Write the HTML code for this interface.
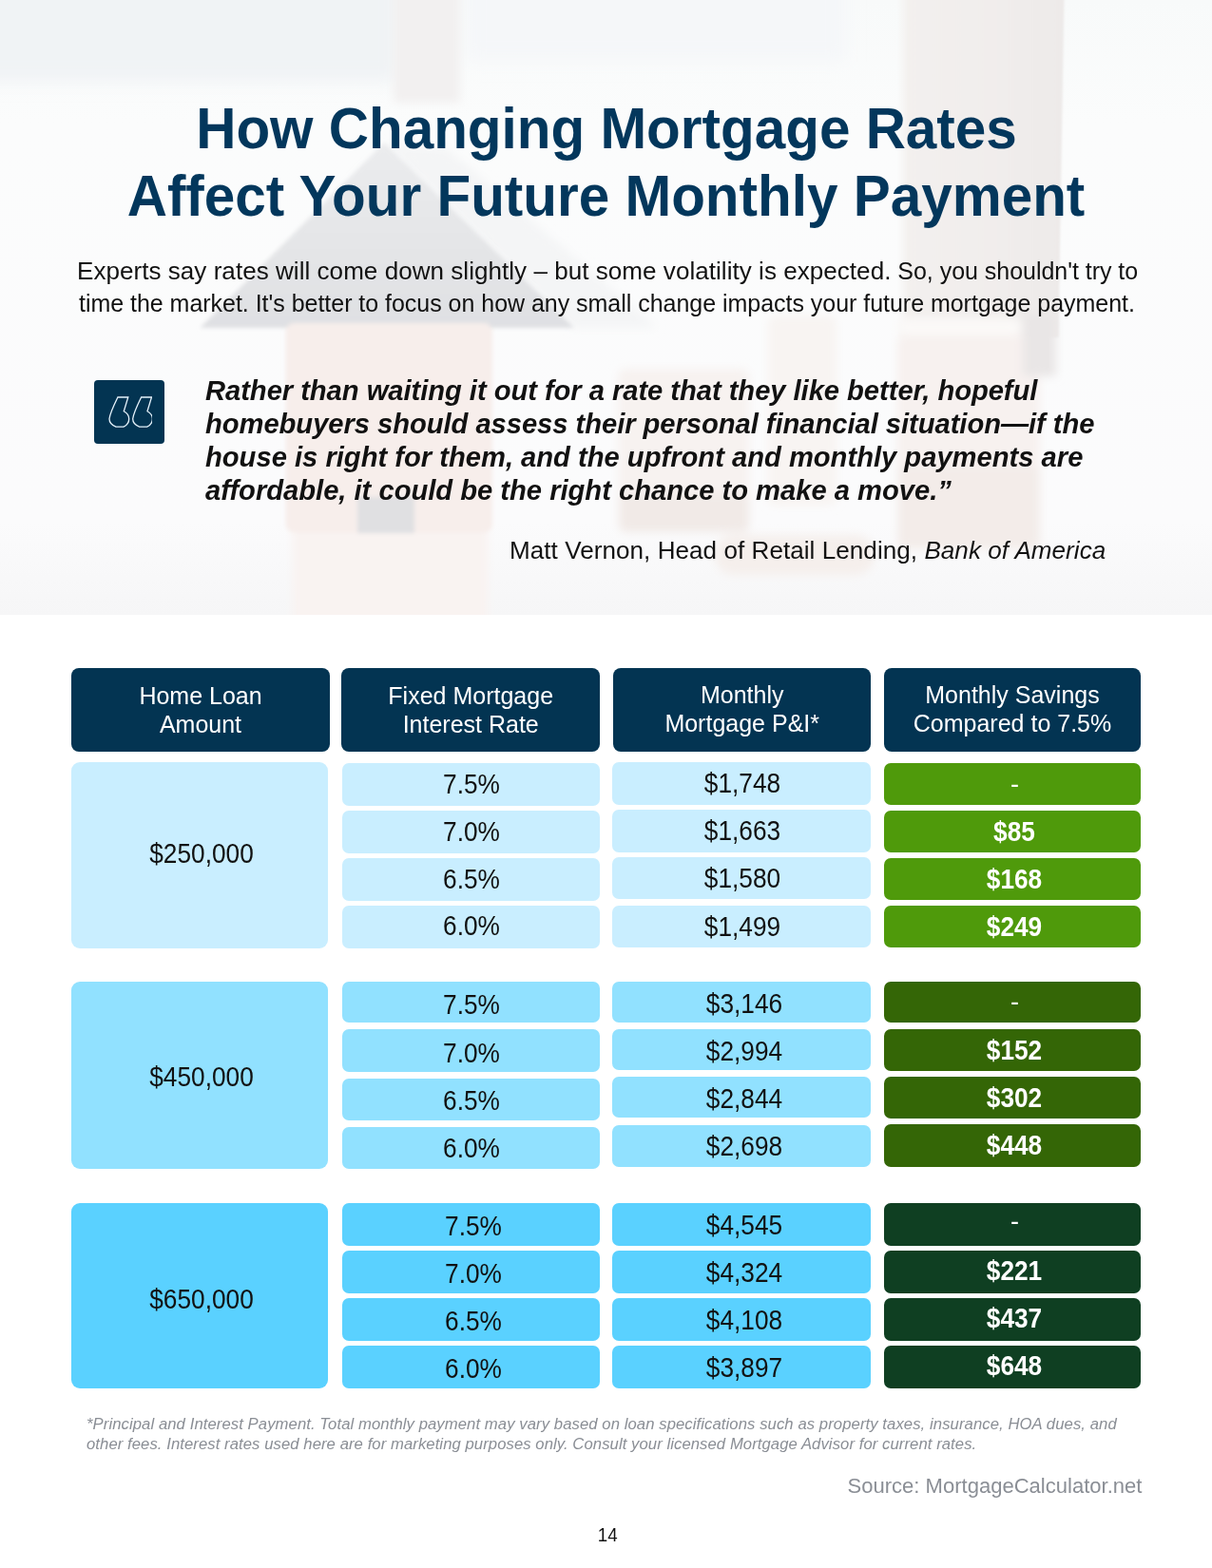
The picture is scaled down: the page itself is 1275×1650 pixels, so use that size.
<!DOCTYPE html>
<html lang="en">
<head>
<meta charset="utf-8">
<title>How Changing Mortgage Rates Affect Your Future Monthly Payment</title>
<style>
html,body{margin:0;padding:0;background:#fff;}
html,body{width:1275px;height:1650px;overflow:hidden;}
body{font-family:"Liberation Sans",sans-serif;}
#page{position:relative;width:1275px;height:1650px;overflow:hidden;background:#fff;}
.t{position:absolute;white-space:nowrap;margin:0;padding:0;}
.b{position:absolute;}
#bg{position:absolute;left:0;top:0;width:1275px;height:647px;overflow:hidden;}
</style>
</head>
<body>
<div id="page">
<div id="bg">
<svg width="1275" height="647" viewBox="0 0 1275 647">
<defs>
<filter id="b3" x="-20%" y="-20%" width="140%" height="140%"><feGaussianBlur stdDeviation="2.2"/></filter>
<filter id="b6" x="-20%" y="-20%" width="140%" height="140%"><feGaussianBlur stdDeviation="5"/></filter>
<filter id="b9" x="-30%" y="-30%" width="160%" height="160%"><feGaussianBlur stdDeviation="9"/></filter>
<filter id="b14" x="-30%" y="-30%" width="160%" height="160%"><feGaussianBlur stdDeviation="14"/></filter>
<linearGradient id="gv" x1="0" y1="0" x2="0" y2="1"><stop offset="0" stop-color="#f8fafa"/><stop offset="0.2" stop-color="#fbfcfc"/><stop offset="0.85" stop-color="#fbfbfc"/><stop offset="1" stop-color="#f6f6f7"/></linearGradient>
<linearGradient id="gp" x1="0" y1="0" x2="1" y2="0"><stop offset="0" stop-color="#f3f0ee"/><stop offset="0.55" stop-color="#f1edec"/><stop offset="1" stop-color="#edeae9"/></linearGradient>
<linearGradient id="gpl" x1="0" y1="0" x2="1" y2="0"><stop offset="0" stop-color="#f3f0ee" stop-opacity="0"/><stop offset="1" stop-color="#f3f0ee"/></linearGradient>
<filter id="b1" x="-20%" y="-20%" width="140%" height="140%"><feGaussianBlur stdDeviation="1"/></filter>
<linearGradient id="gr" x1="0" y1="0" x2="0" y2="1"><stop offset="0" stop-color="#ebecee"/><stop offset="0.6" stop-color="#e4e5e7"/><stop offset="1" stop-color="#dfe0e3"/></linearGradient>
</defs>
<rect width="1275" height="647" fill="url(#gv)"/>
<g filter="url(#b9)">
<rect x="-60" y="-60" width="480" height="146" fill="#f0f3f5"/>
<rect x="490" y="-60" width="400" height="125" fill="#f5f7f9"/>
</g>
<g filter="url(#b6)">
<rect x="308" y="552" width="205" height="114" fill="#f9f3f1"/>
</g>
<g filter="url(#b6)">
<rect x="414" y="-30" width="70" height="138" fill="#f2f0f0"/>
<polygon points="404,152 470,156 692,345 602,345" fill="#f4f5f6"/>
<rect x="650" y="388" width="138" height="172" rx="8" fill="#f7f2f0"/>
<rect x="652" y="520" width="136" height="40" rx="6" fill="#f1eae7"/>
<rect x="808" y="332" width="72" height="200" rx="8" fill="#f8f4f2"/>
<rect x="752" y="563" width="168" height="42" rx="20" fill="#f5efec"/>
</g>
<g filter="url(#b1)">
<rect x="944" y="-30" width="12" height="385" fill="url(#gpl)"/>
<polygon points="955.5,-30 1120,-30 1113.5,355 955.5,355" fill="url(#gp)"/>
</g>
<g filter="url(#b6)">
<rect x="944" y="352" width="150" height="226" rx="8" fill="#f7f1ef"/>
<rect x="943" y="335" width="132" height="18" rx="8" fill="#fbf9f8"/>
<rect x="945" y="490" width="149" height="86" rx="8" fill="#f3ece9"/>
<rect x="1076" y="330" width="35" height="66" fill="#e9e6e6"/>
</g>
<g filter="url(#b3)">
<polygon points="404,150 604,345 210.5,345" fill="url(#gr)"/>
<rect x="300.5" y="340" width="217.5" height="220.5" rx="9" fill="#f7eeeb"/>
<rect x="376" y="523" width="60" height="38" fill="#e0e0e2"/>
</g>
</svg>
</div>
<div class="t" style="top:78.30px;font-size:58.45px;line-height:116.9px;color:#03375c;font-weight:bold;left:-62px;width:1400px;text-align:center;transform:scaleY(1.03);transform-origin:50% 78.70px;">How Changing Mortgage Rates</div>
<div class="t" style="top:149.30px;font-size:58.45px;line-height:116.9px;color:#03375c;font-weight:bold;left:-62.5px;width:1400px;text-align:center;transform:scaleY(1.03);transform-origin:50% 78.70px;">Affect Your Future Monthly Payment</div>
<div class="t" style="top:259.44px;font-size:26.04px;line-height:52.08px;color:#111;letter-spacing:0.037px;left:81px;transform:scaleY(1.02);transform-origin:50% 35.06px;">Experts say rates will come down slightly – but some volatility is expected.<span style="font-size:25px;letter-spacing:-0.03px"> So, you shouldn't try to</span></div>
<div class="t" style="top:294.24px;font-size:25px;line-height:50px;color:#111;letter-spacing:-0.028px;left:83px;transform:scaleY(1.02);transform-origin:50% 33.66px;">time the market. It's better to focus on how any small change impacts your future mortgage payment.</div>
<div class="t" style="top:381.52px;font-size:29.17px;line-height:58.34px;color:#111;font-weight:bold;font-style:italic;letter-spacing:-0.039px;left:216px;transform:scaleY(1.02);transform-origin:50% 39.28px;">Rather than waiting it out for a rate that they like better, hopeful</div>
<div class="t" style="top:417.32px;font-size:29.17px;line-height:58.34px;color:#111;font-weight:bold;font-style:italic;letter-spacing:-0.04px;left:216px;transform:scaleY(1.02);transform-origin:50% 39.28px;">homebuyers should assess their personal financial situation—if the</div>
<div class="t" style="top:452.22px;font-size:29.17px;line-height:58.34px;color:#111;font-weight:bold;font-style:italic;left:216px;transform:scaleY(1.02);transform-origin:50% 39.28px;">house is right for them, and the upfront and monthly payments are</div>
<div class="t" style="top:486.72px;font-size:29.17px;line-height:58.34px;color:#111;font-weight:bold;font-style:italic;letter-spacing:-0.007px;left:216px;transform:scaleY(1.02);transform-origin:50% 39.28px;">affordable, it could be the right chance to make a move.”</div>
<div class="t" style="top:553.34px;font-size:26.04px;line-height:52.08px;color:#111;letter-spacing:0.06px;left:-236.70000000000005px;width:1400px;text-align:right;transform:scaleY(1.02);transform-origin:50% 35.06px;">Matt Vernon, Head of Retail Lending, <i>Bank of America</i></div>
<div class="b" style="left:98.7px;top:400px;width:74.3px;height:66.80000000000001px;background:#033452;border-radius:4px;"></div>
<svg class="b" style="left:98.7px;top:400px" width="61.2" height="67" viewBox="0 0 61.2 67">
<g fill="none" stroke="#e6f2fb" stroke-width="1.3" stroke-linejoin="miter">
<path d="M24.9 18 L35.8 18 L31.3 32.8 C34.2 34.4 36.7 37 36.7 40.8 C36.7 44.6 34.4 47.6 31 49.2 L23 49.2 C19 47.6 16 44.6 16 40.8 C16.4 37 20 28 24.9 18 Z"/>
<path transform="translate(24.7 0)" d="M24.9 18 L35.8 18 L31.3 32.8 C34.2 34.4 36.7 37 36.7 40.8 C36.7 44.6 34.4 47.6 31 49.2 L23 49.2 C19 47.6 16 44.6 16 40.8 C16.4 37 20 28 24.9 18 Z"/>
</g></svg>
<div class="b" style="left:75px;top:703px;width:272px;height:87.5px;background:#033452;border-radius:8px;"></div>
<div class="t" style="top:707.34px;font-size:25px;line-height:50px;color:#fff;left:-489.0px;width:1400px;text-align:center;transform:scaleY(1.02);transform-origin:50% 33.66px;">Home Loan</div>
<div class="t" style="top:737.34px;font-size:25px;line-height:50px;color:#fff;left:-489.0px;width:1400px;text-align:center;transform:scaleY(1.02);transform-origin:50% 33.66px;">Amount</div>
<div class="b" style="left:359.4px;top:703px;width:271.6px;height:87.5px;background:#033452;border-radius:8px;"></div>
<div class="t" style="top:707.34px;font-size:25px;line-height:50px;color:#fff;left:-204.8px;width:1400px;text-align:center;transform:scaleY(1.02);transform-origin:50% 33.66px;">Fixed Mortgage</div>
<div class="t" style="top:737.34px;font-size:25px;line-height:50px;color:#fff;left:-204.8px;width:1400px;text-align:center;transform:scaleY(1.02);transform-origin:50% 33.66px;">Interest Rate</div>
<div class="b" style="left:645.4px;top:703px;width:270.6px;height:87.5px;background:#033452;border-radius:8px;"></div>
<div class="t" style="top:706.24px;font-size:25px;line-height:50px;color:#fff;left:80.70000000000005px;width:1400px;text-align:center;transform:scaleY(1.02);transform-origin:50% 33.66px;">Monthly</div>
<div class="t" style="top:736.24px;font-size:25px;line-height:50px;color:#fff;left:80.70000000000005px;width:1400px;text-align:center;transform:scaleY(1.02);transform-origin:50% 33.66px;">Mortgage P&amp;I*</div>
<div class="b" style="left:930px;top:703px;width:270px;height:87.5px;background:#033452;border-radius:8px;"></div>
<div class="t" style="top:706.24px;font-size:25px;line-height:50px;color:#fff;left:365.0px;width:1400px;text-align:center;transform:scaleY(1.02);transform-origin:50% 33.66px;">Monthly Savings</div>
<div class="t" style="top:736.24px;font-size:25px;line-height:50px;color:#fff;left:365.0px;width:1400px;text-align:center;transform:scaleY(1.02);transform-origin:50% 33.66px;">Compared to 7.5%</div>
<div class="b" style="left:75px;top:802px;width:270px;height:196.29999999999995px;background:#c9eeff;border-radius:9px;filter:blur(0.5px);"></div>
<div class="t" style="top:871.84px;font-size:27px;line-height:54px;color:#111;left:-488.0px;width:1400px;text-align:center;transform:scale(0.972,1.065);transform-origin:50% 36.36px;">$250,000</div>
<div class="b" style="left:359.8px;top:803.3px;width:271.2px;height:44.700000000000045px;background:#c9eeff;border-radius:7px;filter:blur(0.5px);"></div>
<div class="t" style="top:798.64px;font-size:27px;line-height:54px;color:#111;left:-204.0px;width:1400px;text-align:center;transform:scale(0.972,1.065);transform-origin:50% 36.36px;">7.5%</div>
<div class="b" style="left:644px;top:801.5px;width:271.5px;height:45.0px;background:#c9eeff;border-radius:7px;filter:blur(0.5px);"></div>
<div class="t" style="top:798.24px;font-size:27px;line-height:54px;color:#111;left:81.0px;width:1400px;text-align:center;transform:scale(0.972,1.065);transform-origin:50% 36.36px;">$1,748</div>
<div class="b" style="left:930px;top:803px;width:270px;height:44px;background:#4f9a0b;border-radius:7px;"></div>
<div class="t" style="top:797.64px;font-size:27px;line-height:54px;color:#fff;left:367.5px;width:1400px;text-align:center;">-</div>
<div class="b" style="left:359.8px;top:853.3px;width:271.2px;height:44.700000000000045px;background:#c9eeff;border-radius:7px;filter:blur(0.5px);"></div>
<div class="t" style="top:848.64px;font-size:27px;line-height:54px;color:#111;left:-204.0px;width:1400px;text-align:center;transform:scale(0.972,1.065);transform-origin:50% 36.36px;">7.0%</div>
<div class="b" style="left:644px;top:851.6px;width:271.5px;height:45.0px;background:#c9eeff;border-radius:7px;filter:blur(0.5px);"></div>
<div class="t" style="top:848.24px;font-size:27px;line-height:54px;color:#111;left:81.0px;width:1400px;text-align:center;transform:scale(0.972,1.065);transform-origin:50% 36.36px;">$1,663</div>
<div class="b" style="left:930px;top:853px;width:270px;height:44px;background:#4f9a0b;border-radius:7px;"></div>
<div class="t" style="top:848.84px;font-size:27px;line-height:54px;color:#fff;font-weight:bold;left:367.20000000000005px;width:1400px;text-align:center;transform:scale(0.972,1.065);transform-origin:50% 36.36px;">$85</div>
<div class="b" style="left:359.8px;top:903.3px;width:271.2px;height:44.700000000000045px;background:#c9eeff;border-radius:7px;filter:blur(0.5px);"></div>
<div class="t" style="top:898.64px;font-size:27px;line-height:54px;color:#111;left:-204.0px;width:1400px;text-align:center;transform:scale(0.972,1.065);transform-origin:50% 36.36px;">6.5%</div>
<div class="b" style="left:644px;top:901.7px;width:271.5px;height:44.799999999999955px;background:#c9eeff;border-radius:7px;filter:blur(0.5px);"></div>
<div class="t" style="top:898.24px;font-size:27px;line-height:54px;color:#111;left:81.0px;width:1400px;text-align:center;transform:scale(0.972,1.065);transform-origin:50% 36.36px;">$1,580</div>
<div class="b" style="left:930px;top:903px;width:270px;height:44px;background:#4f9a0b;border-radius:7px;"></div>
<div class="t" style="top:898.84px;font-size:27px;line-height:54px;color:#fff;font-weight:bold;left:367.20000000000005px;width:1400px;text-align:center;transform:scale(0.972,1.065);transform-origin:50% 36.36px;">$168</div>
<div class="b" style="left:359.8px;top:953.3px;width:271.2px;height:44.700000000000045px;background:#c9eeff;border-radius:7px;filter:blur(0.5px);"></div>
<div class="t" style="top:948.34px;font-size:27px;line-height:54px;color:#111;left:-204.0px;width:1400px;text-align:center;transform:scale(0.972,1.065);transform-origin:50% 36.36px;">6.0%</div>
<div class="b" style="left:644px;top:953px;width:271.5px;height:43.700000000000045px;background:#c9eeff;border-radius:7px;filter:blur(0.5px);"></div>
<div class="t" style="top:948.64px;font-size:27px;line-height:54px;color:#111;left:81.0px;width:1400px;text-align:center;transform:scale(0.972,1.065);transform-origin:50% 36.36px;">$1,499</div>
<div class="b" style="left:930px;top:953px;width:270px;height:44px;background:#4f9a0b;border-radius:7px;"></div>
<div class="t" style="top:948.84px;font-size:27px;line-height:54px;color:#fff;font-weight:bold;left:367.20000000000005px;width:1400px;text-align:center;transform:scale(0.972,1.065);transform-origin:50% 36.36px;">$249</div>
<div class="b" style="left:75px;top:1033px;width:270px;height:197px;background:#91e1ff;border-radius:9px;filter:blur(0.5px);"></div>
<div class="t" style="top:1107.14px;font-size:27px;line-height:54px;color:#111;left:-488.0px;width:1400px;text-align:center;transform:scale(0.972,1.065);transform-origin:50% 36.36px;">$450,000</div>
<div class="b" style="left:359.8px;top:1033px;width:271.2px;height:43.299999999999955px;background:#91e1ff;border-radius:7px;filter:blur(0.5px);"></div>
<div class="t" style="top:1031.44px;font-size:27px;line-height:54px;color:#111;left:-204.0px;width:1400px;text-align:center;transform:scale(0.972,1.065);transform-origin:50% 36.36px;">7.5%</div>
<div class="b" style="left:644px;top:1033px;width:271.5px;height:42.799999999999955px;background:#91e1ff;border-radius:7px;filter:blur(0.5px);"></div>
<div class="t" style="top:1030.44px;font-size:27px;line-height:54px;color:#111;left:82.70000000000005px;width:1400px;text-align:center;transform:scale(0.972,1.065);transform-origin:50% 36.36px;">$3,146</div>
<div class="b" style="left:930px;top:1033px;width:270px;height:43.299999999999955px;background:#346606;border-radius:7px;"></div>
<div class="t" style="top:1026.64px;font-size:27px;line-height:54px;color:#fff;left:367.5px;width:1400px;text-align:center;">-</div>
<div class="b" style="left:359.8px;top:1083px;width:271.2px;height:44.799999999999955px;background:#91e1ff;border-radius:7px;filter:blur(0.5px);"></div>
<div class="t" style="top:1081.84px;font-size:27px;line-height:54px;color:#111;left:-204.0px;width:1400px;text-align:center;transform:scale(0.972,1.065);transform-origin:50% 36.36px;">7.0%</div>
<div class="b" style="left:644px;top:1083px;width:271.5px;height:43.200000000000045px;background:#91e1ff;border-radius:7px;filter:blur(0.5px);"></div>
<div class="t" style="top:1080.44px;font-size:27px;line-height:54px;color:#111;left:82.70000000000005px;width:1400px;text-align:center;transform:scale(0.972,1.065);transform-origin:50% 36.36px;">$2,994</div>
<div class="b" style="left:930px;top:1083px;width:270px;height:43.59999999999991px;background:#346606;border-radius:7px;"></div>
<div class="t" style="top:1078.84px;font-size:27px;line-height:54px;color:#fff;font-weight:bold;left:367.39999999999986px;width:1400px;text-align:center;transform:scale(0.972,1.065);transform-origin:50% 36.36px;">$152</div>
<div class="b" style="left:359.8px;top:1134.5px;width:271.2px;height:44.90000000000009px;background:#91e1ff;border-radius:7px;filter:blur(0.5px);"></div>
<div class="t" style="top:1131.64px;font-size:27px;line-height:54px;color:#111;left:-204.0px;width:1400px;text-align:center;transform:scale(0.972,1.065);transform-origin:50% 36.36px;">6.5%</div>
<div class="b" style="left:644px;top:1133px;width:271.5px;height:43.200000000000045px;background:#91e1ff;border-radius:7px;filter:blur(0.5px);"></div>
<div class="t" style="top:1130.44px;font-size:27px;line-height:54px;color:#111;left:82.70000000000005px;width:1400px;text-align:center;transform:scale(0.972,1.065);transform-origin:50% 36.36px;">$2,844</div>
<div class="b" style="left:930px;top:1133px;width:270px;height:43.5px;background:#346606;border-radius:7px;"></div>
<div class="t" style="top:1128.84px;font-size:27px;line-height:54px;color:#fff;font-weight:bold;left:367.39999999999986px;width:1400px;text-align:center;transform:scale(0.972,1.065);transform-origin:50% 36.36px;">$302</div>
<div class="b" style="left:359.8px;top:1186px;width:271.2px;height:44px;background:#91e1ff;border-radius:7px;filter:blur(0.5px);"></div>
<div class="t" style="top:1181.84px;font-size:27px;line-height:54px;color:#111;left:-204.0px;width:1400px;text-align:center;transform:scale(0.972,1.065);transform-origin:50% 36.36px;">6.0%</div>
<div class="b" style="left:644px;top:1184.1px;width:271.5px;height:44.0px;background:#91e1ff;border-radius:7px;filter:blur(0.5px);"></div>
<div class="t" style="top:1180.44px;font-size:27px;line-height:54px;color:#111;left:82.70000000000005px;width:1400px;text-align:center;transform:scale(0.972,1.065);transform-origin:50% 36.36px;">$2,698</div>
<div class="b" style="left:930px;top:1183px;width:270px;height:45px;background:#346606;border-radius:7px;"></div>
<div class="t" style="top:1179.44px;font-size:27px;line-height:54px;color:#fff;font-weight:bold;left:367.39999999999986px;width:1400px;text-align:center;transform:scale(0.972,1.065);transform-origin:50% 36.36px;">$448</div>
<div class="b" style="left:75px;top:1266px;width:270px;height:195px;background:#5ad1ff;border-radius:9px;filter:blur(0.5px);"></div>
<div class="t" style="top:1340.54px;font-size:27px;line-height:54px;color:#111;left:-488.0px;width:1400px;text-align:center;transform:scale(0.972,1.065);transform-origin:50% 36.36px;">$650,000</div>
<div class="b" style="left:359.8px;top:1266px;width:271.2px;height:44.700000000000045px;background:#5ad1ff;border-radius:7px;filter:blur(0.5px);"></div>
<div class="t" style="top:1264.14px;font-size:27px;line-height:54px;color:#111;left:-202.2px;width:1400px;text-align:center;transform:scale(0.972,1.065);transform-origin:50% 36.36px;">7.5%</div>
<div class="b" style="left:644px;top:1266px;width:271.5px;height:44.700000000000045px;background:#5ad1ff;border-radius:7px;filter:blur(0.5px);"></div>
<div class="t" style="top:1263.14px;font-size:27px;line-height:54px;color:#111;left:82.70000000000005px;width:1400px;text-align:center;transform:scale(0.972,1.065);transform-origin:50% 36.36px;">$4,545</div>
<div class="b" style="left:930px;top:1266px;width:270px;height:44.700000000000045px;background:#0f3f22;border-radius:7px;"></div>
<div class="t" style="top:1258.14px;font-size:27px;line-height:54px;color:#fff;left:367.5px;width:1400px;text-align:center;">-</div>
<div class="b" style="left:359.8px;top:1316px;width:271.2px;height:44.700000000000045px;background:#5ad1ff;border-radius:7px;filter:blur(0.5px);"></div>
<div class="t" style="top:1314.14px;font-size:27px;line-height:54px;color:#111;left:-202.2px;width:1400px;text-align:center;transform:scale(0.972,1.065);transform-origin:50% 36.36px;">7.0%</div>
<div class="b" style="left:644px;top:1316px;width:271.5px;height:44.700000000000045px;background:#5ad1ff;border-radius:7px;filter:blur(0.5px);"></div>
<div class="t" style="top:1313.14px;font-size:27px;line-height:54px;color:#111;left:82.70000000000005px;width:1400px;text-align:center;transform:scale(0.972,1.065);transform-origin:50% 36.36px;">$4,324</div>
<div class="b" style="left:930px;top:1316px;width:270px;height:44.700000000000045px;background:#0f3f22;border-radius:7px;"></div>
<div class="t" style="top:1310.54px;font-size:27px;line-height:54px;color:#fff;font-weight:bold;left:367.0px;width:1400px;text-align:center;transform:scale(0.972,1.065);transform-origin:50% 36.36px;">$221</div>
<div class="b" style="left:359.8px;top:1366px;width:271.2px;height:44.700000000000045px;background:#5ad1ff;border-radius:7px;filter:blur(0.5px);"></div>
<div class="t" style="top:1364.14px;font-size:27px;line-height:54px;color:#111;left:-202.2px;width:1400px;text-align:center;transform:scale(0.972,1.065);transform-origin:50% 36.36px;">6.5%</div>
<div class="b" style="left:644px;top:1366px;width:271.5px;height:44.700000000000045px;background:#5ad1ff;border-radius:7px;filter:blur(0.5px);"></div>
<div class="t" style="top:1363.14px;font-size:27px;line-height:54px;color:#111;left:82.70000000000005px;width:1400px;text-align:center;transform:scale(0.972,1.065);transform-origin:50% 36.36px;">$4,108</div>
<div class="b" style="left:930px;top:1366px;width:270px;height:44.700000000000045px;background:#0f3f22;border-radius:7px;"></div>
<div class="t" style="top:1360.54px;font-size:27px;line-height:54px;color:#fff;font-weight:bold;left:367.0px;width:1400px;text-align:center;transform:scale(0.972,1.065);transform-origin:50% 36.36px;">$437</div>
<div class="b" style="left:359.8px;top:1416px;width:271.2px;height:44.700000000000045px;background:#5ad1ff;border-radius:7px;filter:blur(0.5px);"></div>
<div class="t" style="top:1414.14px;font-size:27px;line-height:54px;color:#111;left:-202.2px;width:1400px;text-align:center;transform:scale(0.972,1.065);transform-origin:50% 36.36px;">6.0%</div>
<div class="b" style="left:644px;top:1416px;width:271.5px;height:44.700000000000045px;background:#5ad1ff;border-radius:7px;filter:blur(0.5px);"></div>
<div class="t" style="top:1413.14px;font-size:27px;line-height:54px;color:#111;left:82.70000000000005px;width:1400px;text-align:center;transform:scale(0.972,1.065);transform-origin:50% 36.36px;">$3,897</div>
<div class="b" style="left:930px;top:1416px;width:270px;height:44.700000000000045px;background:#0f3f22;border-radius:7px;"></div>
<div class="t" style="top:1410.54px;font-size:27px;line-height:54px;color:#fff;font-weight:bold;left:367.0px;width:1400px;text-align:center;transform:scale(0.972,1.065);transform-origin:50% 36.36px;">$648</div>
<div class="t" style="top:1481.55px;font-size:16.67px;line-height:33.34px;color:#8a8e95;font-style:italic;letter-spacing:0.085px;left:91px;">*Principal and Interest Payment. Total monthly payment may vary based on loan specifications such as property taxes, insurance, HOA dues, and</div>
<div class="t" style="top:1502.55px;font-size:16.67px;line-height:33.34px;color:#8a8e95;font-style:italic;letter-spacing:0.075px;left:91px;">other fees. Interest rates used here are for marketing purposes only. Consult your licensed Mortgage Advisor for current rates.</div>
<div class="t" style="top:1542.31px;font-size:22.05px;line-height:44.1px;color:#8a8e95;left:-198.5px;width:1400px;text-align:right;transform:scaleY(1.04);transform-origin:50% 29.69px;">Source: MortgageCalculator.net</div>
<div class="t" style="top:1596.75px;font-size:18.75px;line-height:37.5px;color:#111;left:-60.799999999999955px;width:1400px;text-align:center;transform:scaleY(1.04);transform-origin:50% 25.25px;">14</div>
</div>
</body>
</html>
